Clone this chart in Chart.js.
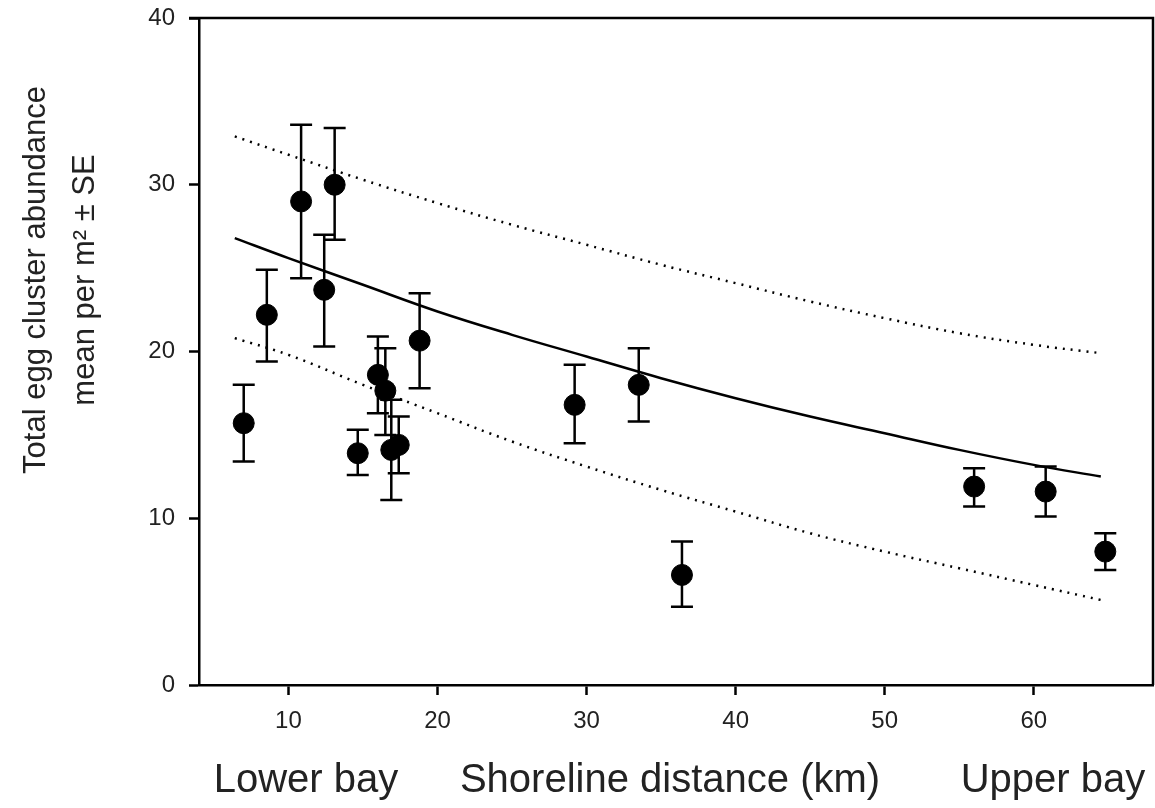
<!DOCTYPE html>
<html>
<head>
<meta charset="utf-8">
<script src="https://cdn.jsdelivr.net/npm/chart.js@4.4.1/dist/chart.umd.min.js"></script>
<style>
  html, body { margin: 0; padding: 0; background: #fff; }
  canvas { display: block; }
</style>
</head>
<body>
<canvas id="c" width="1155" height="808"></canvas>
<script>
// Observed sites: shoreline distance (km), mean abundance, upper and lower SE limits
const distanceKm = [7.0, 8.55, 10.85, 12.4, 13.1, 14.65, 16.0, 16.5, 16.9, 17.4, 18.8, 29.2, 33.5, 36.4, 56.0, 60.8, 64.8];
const meanAbundance = [15.7, 22.2, 29.0, 23.7, 30.0, 13.9, 18.6, 17.65, 14.1, 14.4, 20.65, 16.8, 18.0, 6.6, 11.9, 11.6, 8.0];
const seUpper = [18.0, 24.9, 33.6, 27.0, 33.4, 15.3, 20.9, 20.2, 17.1, 16.1, 23.5, 19.2, 20.2, 8.6, 13.0, 13.1, 9.1];
const seLower = [13.4, 19.4, 24.4, 20.3, 26.7, 12.6, 16.3, 15.0, 11.1, 12.7, 17.8, 14.5, 15.8, 4.7, 10.7, 10.1, 6.9];

// Fitted curve and confidence band
const curveX = [6.4, 10, 15, 20, 25, 30, 35, 40, 45, 50, 55, 60, 64.5];
const fitY = [26.8, 25.6, 24.0, 22.4, 21.0, 19.7, 18.4, 17.2, 16.1, 15.1, 14.1, 13.2, 12.5];
const upperBandY = [32.9, 31.8, 30.3, 28.9, 27.6, 26.4, 25.2, 24.1, 23.0, 22.0, 21.1, 20.4, 19.9];
const lowerBandY = [20.8, 19.8, 18.0, 16.3, 14.6, 13.1, 11.7, 10.4, 9.1, 8.0, 7.0, 6.0, 5.1];

// Tick labels
const xTicks = [10, 20, 30, 40, 50, 60];
const yTicks = [0, 10, 20, 30, 40];

const yTitleLines = ['Total egg cluster abundance', 'mean per m\u00B2 \u00B1 SE'];
const bottomLabels = ['Lower bay', 'Shoreline distance (km)', 'Upper bay'];

const FONT = '"Liberation Sans", Arial, sans-serif';
const pts = (xs, ys) => xs.map((x, i) => ({ x: x, y: ys[i] }));

const errorBars = {
  id: 'errorBars',
  afterDatasetsDraw(chart) {
    const ctx = chart.ctx, xs = chart.scales.x, ys = chart.scales.y;
    ctx.save();
    ctx.strokeStyle = '#000';
    ctx.lineWidth = 2.5;
    const cap = 11;
    distanceKm.forEach((d, i) => {
      const px = xs.getPixelForValue(d);
      const pHi = ys.getPixelForValue(seUpper[i]);
      const pLo = ys.getPixelForValue(seLower[i]);
      ctx.beginPath();
      ctx.moveTo(px, pHi); ctx.lineTo(px, pLo);
      ctx.moveTo(px - cap, pHi); ctx.lineTo(px + cap, pHi);
      ctx.moveTo(px - cap, pLo); ctx.lineTo(px + cap, pLo);
      ctx.stroke();
    });
    ctx.restore();
  }
};

const frameAndTitles = {
  id: 'frameAndTitles',
  afterDraw(chart) {
    const ctx = chart.ctx, a = chart.chartArea;
    ctx.save();
    ctx.strokeStyle = '#000';
    ctx.lineWidth = 2.5;
    ctx.beginPath();
    ctx.moveTo(a.left - 10, a.top);
    ctx.lineTo(a.right, a.top);
    ctx.lineTo(a.right, a.bottom);
    ctx.stroke();

    // y title (rotated)
    ctx.fillStyle = '#222';
    ctx.font = '31px ' + FONT;
    ctx.textAlign = 'center';
    ctx.textBaseline = 'middle';
    const cy = 280;
    ctx.save();
    ctx.translate(36, cy);
    ctx.rotate(-Math.PI / 2);
    ctx.fillText(yTitleLines[0], 0, 0);
    ctx.restore();
    ctx.save();
    ctx.translate(85, cy);
    ctx.rotate(-Math.PI / 2);
    ctx.fillText(yTitleLines[1], 0, 0);
    ctx.restore();

    // bottom labels
    ctx.font = '40px ' + FONT;
    ctx.textBaseline = 'alphabetic';
    const centers = [306, 670, 1053];
    bottomLabels.forEach((t, i) => ctx.fillText(t, centers[i], 792));
    ctx.restore();
  }
};

new Chart(document.getElementById('c'), {
  data: {
    datasets: [
      { type: 'scatter', data: pts(distanceKm, meanAbundance), backgroundColor: '#000', borderColor: '#000', pointRadius: 10.5, pointHoverRadius: 10.5, order: 0 },
      { type: 'line', data: pts(curveX, fitY), borderColor: '#000', borderWidth: 2.5, pointRadius: 0, tension: 0.4, fill: false, order: 1 },
      { type: 'line', data: pts(curveX, upperBandY), borderColor: '#000', borderWidth: 2.5, borderDash: [2, 6], pointRadius: 0, tension: 0.4, fill: false, order: 1 },
      { type: 'line', data: pts(curveX, lowerBandY), borderColor: '#000', borderWidth: 2.5, borderDash: [2, 6], pointRadius: 0, tension: 0.4, fill: false, order: 1 }
    ]
  },
  options: {
    responsive: false,
    devicePixelRatio: 1,
    animation: false,
    events: [],
    layout: { autoPadding: false, padding: { left: 0, right: 2, top: 18, bottom: 0 } },
    plugins: { legend: { display: false }, tooltip: { enabled: false } },
    scales: {
      x: {
        type: 'linear', min: 4, max: 68,
        afterBuildTicks: s => { s.ticks = xTicks.map(v => ({ value: v })); },
        afterFit: s => { s.height = 123; s.paddingLeft = 0; s.paddingRight = 0; },
        grid: { drawOnChartArea: false, tickLength: 10, tickWidth: 2.5, tickColor: '#000' },
        border: { display: true, color: '#000', width: 2.5 },
        ticks: { color: '#222', font: { family: FONT, size: 24 }, padding: 12, maxRotation: 0 }
      },
      y: {
        type: 'linear', min: 0, max: 40,
        afterBuildTicks: s => { s.ticks = yTicks.map(v => ({ value: v })); },
        afterFit: s => { s.width = 199; s.paddingTop = 0; s.paddingBottom = 0; },
        grid: { drawOnChartArea: false, tickLength: 10, tickWidth: 2.5, tickColor: '#000' },
        border: { display: true, color: '#000', width: 2.5 },
        ticks: { color: '#222', font: { family: FONT, size: 24 }, padding: 14 }
      }
    }
  },
  plugins: [errorBars, frameAndTitles]
});
</script>
</body>
</html>
